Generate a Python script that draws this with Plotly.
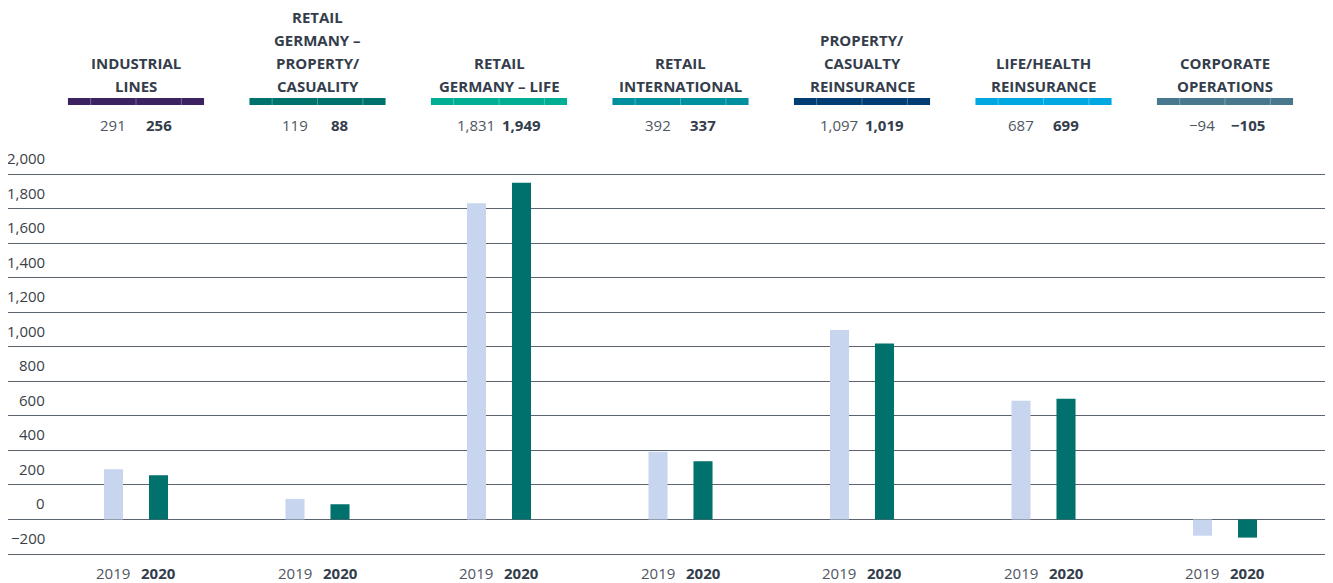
import plotly.graph_objects as go

# ---------------- data ----------------
header_lines = [
    ["INDUSTRIAL", "LINES"],
    ["RETAIL", "GERMANY –", "PROPERTY/", "CASUALITY"],
    ["RETAIL", "GERMANY – LIFE"],
    ["RETAIL", "INTERNATIONAL"],
    ["PROPERTY/", "CASUALTY", "REINSURANCE"],
    ["LIFE/HEALTH", "REINSURANCE"],
    ["CORPORATE", "OPERATIONS"],
]
values_2019 = [291, 119, 1831, 392, 1097, 687, -94]
values_2020 = [256, 88, 1949, 337, 1019, 699, -105]
years = ["2019", "2020"]
segment_colors = ["#3b2261", "#00726c", "#00ae94", "#008f9e", "#003d73", "#00a8e1", "#48788e"]
ytick_vals = [-200, 0, 200, 400, 600, 800, 1000, 1200, 1400, 1600, 1800, 2000]

# ---------------- layout constants (page pixel coords, page has 8px body margin) ----------------
OFF = 8
PAGE_W, PAGE_H = 1333, 583
W, H = PAGE_W - OFF, PAGE_H - OFF
plot_left, plot_right = 8, 1330       # page px
plot_top, plot_bottom = 170, 558      # page px
L = plot_left - OFF
R = W - (plot_right - OFF)
T = plot_top - OFF
B = H - (plot_bottom - OFF)
PH = plot_bottom - plot_top
PW = plot_right - plot_left
k = 380 / 2200.0  # px per unit (2000 at py 174, -200 at py 554)
y_lo = -200 - (plot_bottom - 554) / k
y_hi = 2000 + (174 - plot_top) / k
cat0, cat_step = 136, 181.5
x_lo = (plot_left - cat0) / cat_step
x_hi = (plot_right - cat0) / cat_step

def py2paper(py):
    return (plot_bottom - py) / PH

def px2paper(px):
    return (px - plot_left) / PW

c2019 = "#c8d5ee"
c2020 = "#00716c"
text_dark = "#343d4b"
text_grey = "#4f5662"
grid_col = "#5b636e"
FONT = "Open Sans"
FS = 15

x_idx = list(range(len(values_2019)))
off = 0.124
bw = 0.105

fig = go.Figure()
fig.add_trace(go.Bar(x=x_idx, y=values_2019, width=bw, offset=-off - bw / 2,
                     marker=dict(color=c2019, line=dict(width=0)), name="2019",
                     hoverinfo="y"))
fig.add_trace(go.Bar(x=x_idx, y=values_2020, width=bw, offset=off - bw / 2,
                     marker=dict(color=c2020, line=dict(width=0)), name="2020",
                     hoverinfo="y"))

def fmt(v):
    return f"{v:,}".replace("-", "−")

annotations = []
shapes = []

# y tick labels (above gridlines)
for v in ytick_vals:
    annotations.append(dict(xref="paper", yref="y", x=px2paper(47), y=v,
                            yshift=16, xanchor="right", yanchor="middle", showarrow=False,
                            text=fmt(v), font=dict(family=FONT, size=FS, color="#3a3f47")))

for i, lines in enumerate(header_lines):
    n = len(lines)
    for j, line in enumerate(lines):
        py = 86 - 23 * (n - 1 - j)
        annotations.append(dict(xref="x", yref="paper", x=i, y=py2paper(py),
                                xanchor="center", yanchor="middle", showarrow=False,
                                text=f"<b>{line}</b>",
                                font=dict(family=FONT, size=FS, color=text_dark)))
    # coloured header bar
    shapes.append(dict(type="rect", xref="x", yref="paper", x0=i - 0.375, x1=i + 0.375,
                       y0=py2paper(105), y1=py2paper(98), fillcolor=segment_colors[i],
                       line=dict(width=0), layer="above"))
    for s in (-0.25, 0.0, 0.25):
        shapes.append(dict(type="line", xref="x", yref="paper", x0=i + s, x1=i + s,
                           y0=py2paper(105), y1=py2paper(98),
                           line=dict(color="rgba(255,255,255,0.3)", width=1), layer="above"))
    # header values
    annotations.append(dict(xref="x", yref="paper", x=i - off, y=py2paper(125),
                            xanchor="center", yanchor="middle", showarrow=False,
                            text=fmt(values_2019[i]),
                            font=dict(family=FONT, size=FS, color=text_grey)))
    annotations.append(dict(xref="x", yref="paper", x=i + off, y=py2paper(125),
                            xanchor="center", yanchor="middle", showarrow=False,
                            text=f"<b>{fmt(values_2020[i])}</b>",
                            font=dict(family=FONT, size=FS, color=text_dark)))
    # bottom year labels
    annotations.append(dict(xref="x", yref="paper", x=i - off, y=py2paper(573),
                            xanchor="center", yanchor="middle", showarrow=False,
                            text=years[0], font=dict(family=FONT, size=FS, color=text_grey)))
    annotations.append(dict(xref="x", yref="paper", x=i + off, y=py2paper(573),
                            xanchor="center", yanchor="middle", showarrow=False,
                            text=f"<b>{years[1]}</b>",
                            font=dict(family=FONT, size=FS, color=text_dark)))

fig.update_layout(
    width=W, height=H,
    margin=dict(l=L, r=R, t=T, b=B, pad=0),
    paper_bgcolor="white", plot_bgcolor="white",
    barmode="overlay",
    showlegend=False,
    font=dict(family=FONT),
    xaxis=dict(range=[x_lo, x_hi], showgrid=False, zeroline=False, showticklabels=False,
               ticks="", showline=False, fixedrange=True),
    yaxis=dict(range=[y_lo, y_hi], tickvals=ytick_vals, showticklabels=False,
               showgrid=True, gridcolor=grid_col, gridwidth=1,
               zeroline=True, zerolinecolor=grid_col, zerolinewidth=1,
               ticks="", showline=False, fixedrange=True),
    annotations=annotations,
    shapes=shapes,
)

fig.write_html("out.html")
